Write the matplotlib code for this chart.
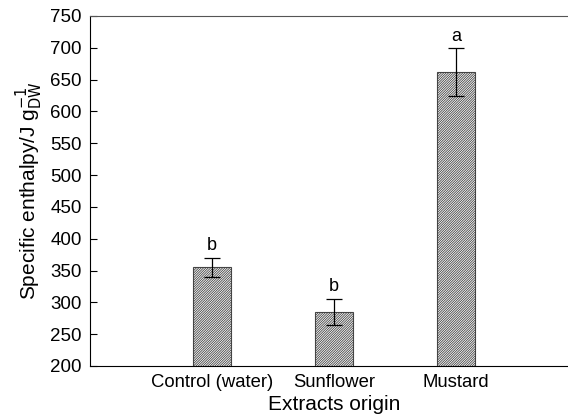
import matplotlib
matplotlib.use("Agg")
import matplotlib.pyplot as plt

plt.rcParams['font.family'] = ['Liberation Sans', 'DejaVu Sans']
plt.rcParams['hatch.linewidth'] = 0.6
plt.rcParams['hatch.color'] = '#333333'

categories = ['Control (water)', 'Sunflower', 'Mustard']
enthalpy = [355, 285, 662]
errors = [15, 20, 37]
letters = ['b', 'b', 'a']

fig = plt.figure(figsize=(5.68, 4.17), dpi=100)
ax = fig.add_axes([90 / 568, 51 / 417, 488 / 568, 350 / 417])

pos = [1, 2, 3]
ax.bar(pos, enthalpy, width=0.31, color='white', edgecolor='#444444',
       linewidth=0.8, hatch='/' * 14, zorder=2)
ax.errorbar(pos, enthalpy, yerr=errors, fmt='none', ecolor='black',
            elinewidth=0.9, capsize=6, capthick=0.9, zorder=3)
for x, v, e, t in zip(pos, enthalpy, errors, letters):
    ax.text(x, v + e + 6, t, ha='center', va='bottom', fontsize=13)

ax.set_xlim(0, 4)
ax.set_ylim(200, 750)
ax.set_yticks(range(200, 751, 50))
ax.set_xticks(pos)
ax.set_xticklabels(categories, fontsize=13.3)
ax.tick_params(axis='x', length=0, pad=6)
ax.tick_params(axis='y', direction='in', length=5, labelsize=13.5, pad=6)
ax.spines['right'].set_visible(False)
ax.spines['top'].set_color('#555555')

ax.set_xlabel('Extracts origin', fontsize=15, labelpad=3)
ax.set_ylabel('Specific enthalpy/J g$_{\\mathrm{DW}}^{-1}$', fontsize=15, labelpad=4)

fig.savefig('out.png', dpi=100)
